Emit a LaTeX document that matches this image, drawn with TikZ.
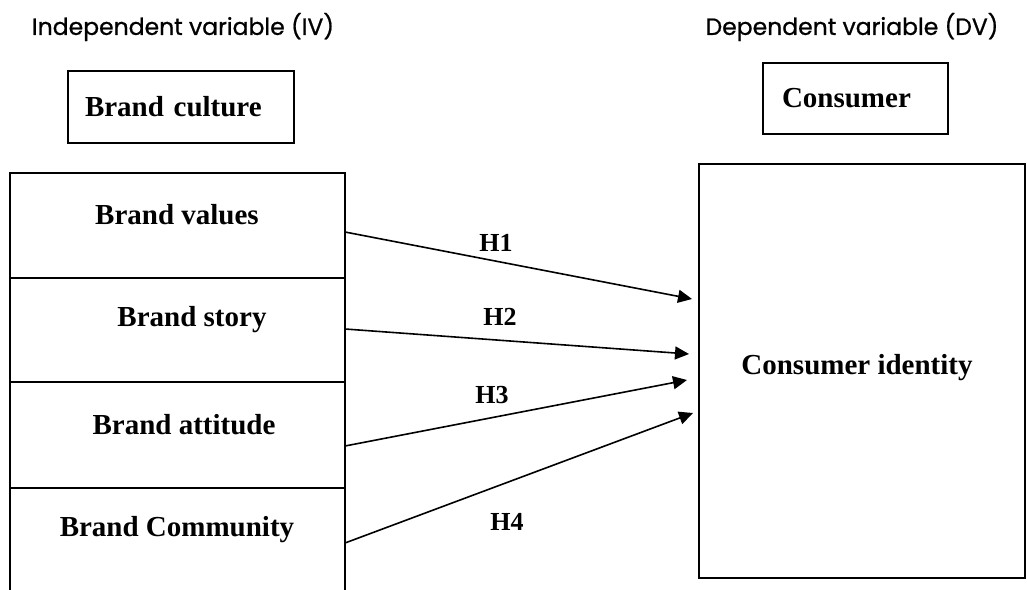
\documentclass[tikz,border=0pt]{standalone}
\usepackage{fontspec}
\setmainfont{Liberation Serif}
\newfontfamily\headfont{Poppins}[FakeBold=0.8]
\usetikzlibrary{arrows.meta,positioning}

\begin{document}
\begin{tikzpicture}[x=1pt,y=-1pt,
  box/.style={draw,line width=1.8pt,outer sep=0pt},
  cell/.style={draw,line width=1.7pt,outer sep=0pt,minimum width=335pt},
  lbl/.style={font=\fontsize{29}{34}\selectfont\bfseries},
  hyp/.style={font=\fontsize{26}{30}\selectfont\bfseries},
  head/.style={font=\headfont\fontsize{23.5}{28}\selectfont},
  link/.style={line width=1.6pt,-{Triangle[length=14pt,width=13pt]}}]
  \useasboundingbox (0,0) rectangle (1027,589);

  % Column headings
  \node[head] (iv) at (183,27) {Independent variable (IV)};
  \node[head] (dv) at (852,27) {Dependent variable (DV)};

  \node[box,lbl,inner xsep=17pt,text width=192pt,align=left,minimum height=72pt] (culture) at (181,107) {Brand culture};
  \node[box,lbl,inner xsep=19pt,text width=147pt,align=left,minimum height=71pt] (consumer) at (855.5,98.5) {Consumer};

  % Brand culture dimensions
  \node[cell,minimum height=105pt] (values) at (177.5,225.5) {};
  \node[cell,minimum height=104pt,below=0pt of values] (story) {};
  \node[cell,minimum height=106pt,below=0pt of story] (attitude) {};
  \node[cell,minimum height=120pt,below=0pt of attitude] (community) {};
  \node[lbl] (valuesT) at (177,215) {Brand values};
  \node[lbl] (storyT) at (192,320) {Brand story};
  \node[lbl] (attitudeT) at (184,425) {Brand attitude};
  \node[lbl] (communityT) at (177,530) {Brand Community};

  % Consumer identity
  \node[box,minimum width=326pt,minimum height=414pt] (identity) at (862,371) {};
  \node[lbl] (identityT) at (857,368) {Consumer identity};

  % Hypotheses
  \draw[link] ([yshift=-6.5pt]values.east) -- ([xshift=-7pt,yshift=72pt]identity.west);
  \draw[link] ([yshift=1pt]story.east) -- ([xshift=-10pt,yshift=17pt]identity.west);
  \draw[link] ([yshift=-11pt]attitude.east) -- ([xshift=-12pt,yshift=-9pt]identity.west);
  \draw[link] ([yshift=5pt]community.east) -- ([xshift=-6pt,yshift=-42pt]identity.west);
  \node[hyp] (h1) at (496,243) {H1};
  \node[hyp] (h2) at (500,317) {H2};
  \node[hyp] (h3) at (492,395) {H3};
  \node[hyp] (h4) at (507,522) {H4};
\end{tikzpicture}
\end{document}
